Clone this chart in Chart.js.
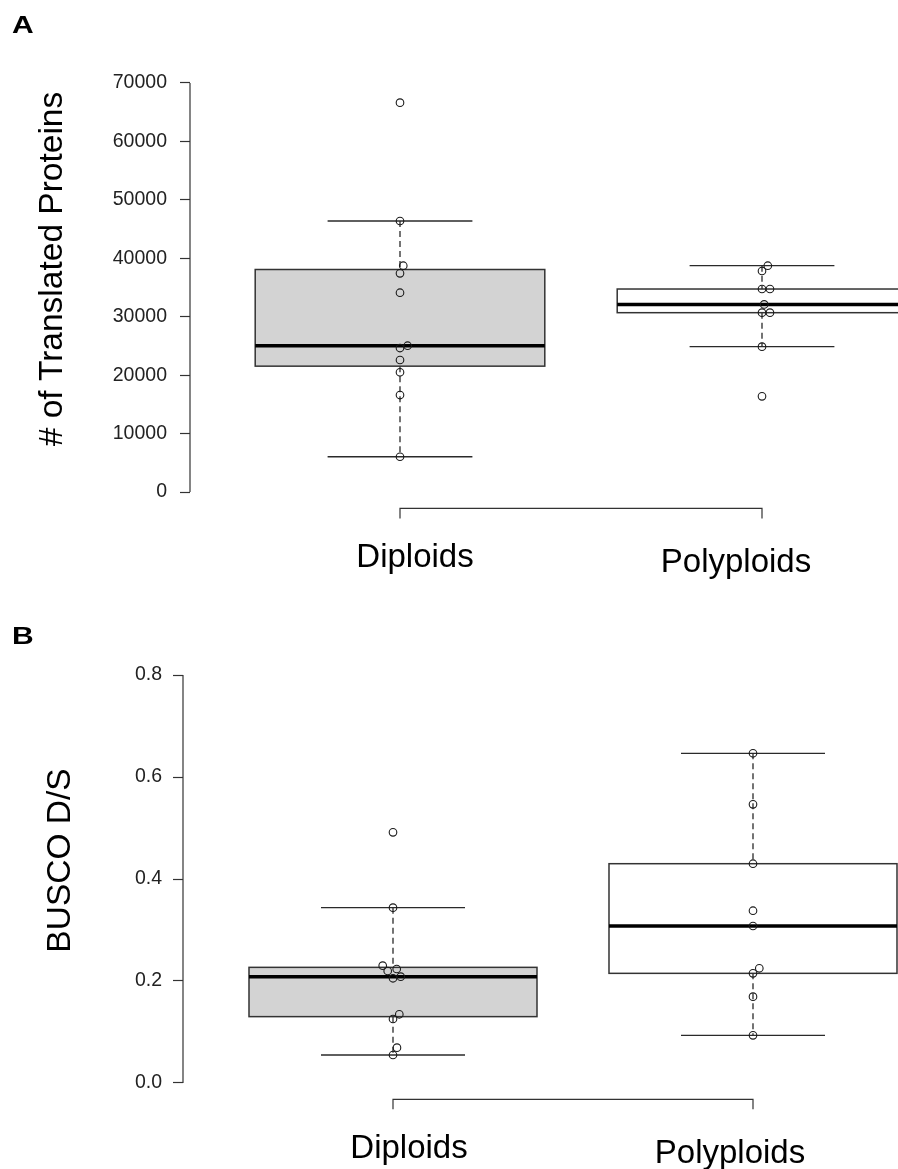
<!DOCTYPE html>
<html><head><meta charset="utf-8">
<script src="https://cdn.jsdelivr.net/npm/chart.js@4/dist/chart.umd.min.js"></script>
<style>
html,body{margin:0;padding:0;background:#fff;}
#wrap{position:relative;width:898px;height:1169px;overflow:hidden;}
canvas{position:absolute;left:0;}
</style></head><body>
<div id="wrap">
<canvas id="cA" width="898" height="585" style="top:0px"></canvas>
<canvas id="cB" width="898" height="584" style="top:585px"></canvas>
</div>
<script>
// ---------- data ----------
const groups = ['Diploids', 'Polyploids'];
const groupPos = [1, 2];

const proteinsDiploids   = [66630, 46380, 38730, 37430, 34110, 25040, 24640, 22590, 20490, 16600, 6040];
const proteinsPolyploids = [38730, 37820, 34740, 34740, 32100, 30690, 30690, 24870, 16380];
const jitterProteinsDiploids   = [0, 0, 0.009, 0, 0, 0.021, 0, 0, 0, 0, 0];
const jitterProteinsPolyploids = [0.016, 0, 0, 0.022, 0.006, 0, 0.022, 0, 0];

const buscoDiploids   = [0.4915, 0.3438, 0.2300, 0.2196, 0.2235, 0.2053, 0.2085, 0.1347, 0.1255, 0.0693, 0.0549];
const buscoPolyploids = [0.6465, 0.5464, 0.4300, 0.3378, 0.3078, 0.2249, 0.2150, 0.1692, 0.0935];
const jitterBuscoDiploids   = [0, 0, -0.0286, -0.0147, 0.0103, 0, 0.0214, 0.0175, 0, 0.011, 0];
const jitterBuscoPolyploids = [0, 0, 0, 0, 0, 0.0175, 0, 0, 0];

const proteinTicks = [0, 10000, 20000, 30000, 40000, 50000, 60000, 70000];
const proteinTickLabels = ['0', '10000', '20000', '30000', '40000', '50000', '60000', '70000'];
const buscoTicks = [0, 0.2, 0.4, 0.6, 0.8];
const buscoTickLabels = ['0.0', '0.2', '0.4', '0.6', '0.8'];

// ---------- box statistics (R boxplot / fivenum) ----------
function fivenum(arr) {
  const x = [...arr].sort((a, b) => a - b), n = x.length;
  const n4 = Math.floor((n + 3) / 2) / 2;
  const d = [1, n4, (n + 1) / 2, n + 1 - n4, n];
  return d.map(i => 0.5 * (x[Math.floor(i) - 1] + x[Math.ceil(i) - 1]));
}
function boxStats(arr) {
  const f = fivenum(arr), iqr = f[3] - f[1];
  const lo = f[1] - 1.5 * iqr, hi = f[3] + 1.5 * iqr;
  const inside = arr.filter(v => v >= lo && v <= hi);
  return { q1: f[1], med: f[2], q3: f[3], wLo: Math.min(...inside), wHi: Math.max(...inside) };
}

const FONT = "'Liberation Sans', Arial, Helvetica, sans-serif";

const rboxPlugin = {
  id: 'rbox',
  beforeDatasetsDraw(chart) {
    const o = chart.options.plugins.rbox;
    const xs = chart.scales.x, ys = chart.scales.y, ctx = chart.ctx;
    const Y = v => ys.getPixelForValue(v);
    const line = (x1, y1, x2, y2) => { ctx.beginPath(); ctx.moveTo(x1, y1); ctx.lineTo(x2, y2); ctx.stroke(); };
    ctx.save();
    ctx.lineCap = 'butt';
    o.boxes.forEach(b => {
      const s = b.stats;
      const xc = xs.getPixelForValue(b.pos);
      const xl = xs.getPixelForValue(b.pos - o.boxHalf), xr = xs.getPixelForValue(b.pos + o.boxHalf);
      const cl = xs.getPixelForValue(b.pos - o.capHalf), cr = xs.getPixelForValue(b.pos + o.capHalf);
      ctx.strokeStyle = '#2a2a2a'; ctx.lineWidth = 1.3;
      ctx.setLineDash([6, 4]);
      line(xc, Y(s.wHi), xc, Y(s.q3));
      line(xc, Y(s.q1), xc, Y(s.wLo));
      ctx.setLineDash([]);
      line(cl, Y(s.wHi), cr, Y(s.wHi));
      line(cl, Y(s.wLo), cr, Y(s.wLo));
      ctx.fillStyle = b.fill;
      ctx.fillRect(xl, Y(s.q3), xr - xl, Y(s.q1) - Y(s.q3));
      ctx.lineWidth = 1.5; ctx.strokeStyle = '#333';
      ctx.strokeRect(xl, Y(s.q3), xr - xl, Y(s.q1) - Y(s.q3));
      ctx.strokeStyle = '#000'; ctx.lineWidth = 3.5;
      line(xl, Y(s.med), xr, Y(s.med));
    });
    // y axis line (range of ticks)
    const ca = chart.chartArea;
    ctx.strokeStyle = '#333'; ctx.lineWidth = 1.2;
    line(ca.left, Y(o.yTicks[0]), ca.left, Y(o.yTicks[o.yTicks.length - 1]));
    // x axis bracket
    const x1 = xs.getPixelForValue(groupPos[0]), x2 = xs.getPixelForValue(groupPos[groupPos.length - 1]);
    ctx.beginPath();
    ctx.moveTo(x1, ca.bottom + 10); ctx.lineTo(x1, ca.bottom); ctx.lineTo(x2, ca.bottom); ctx.lineTo(x2, ca.bottom + 10);
    ctx.stroke();
    ctx.restore();
  },
  afterDraw(chart) {
    const o = chart.options.plugins.rbox, ctx = chart.ctx, xs = chart.scales.x;
    ctx.save();
    ctx.fillStyle = '#000';
    ctx.textBaseline = 'alphabetic';
    // panel letter
    ctx.save();
    ctx.translate(o.letterX, o.letterY); ctx.scale(1.25, 1);
    ctx.font = 'bold 24px ' + FONT; ctx.textAlign = 'left';
    ctx.fillText(o.letter, 0, 0);
    ctx.restore();
    // y title
    ctx.save();
    ctx.translate(o.titleX, o.titleY); ctx.rotate(-Math.PI / 2);
    ctx.font = '33.5px ' + FONT; ctx.textAlign = 'center';
    ctx.fillText(o.title, 0, 0);
    ctx.restore();
    // group labels
    ctx.font = '33px ' + FONT; ctx.textAlign = 'center';
    groups.forEach((g, i) => {
      ctx.fillText(g, xs.getPixelForValue(groupPos[i]) + o.labelDx[i], o.labelY[i]);
    });
    ctx.restore();
  }
};

function makeChart(id, cfg) {
  const datasets = cfg.series.map((vals, gi) => ({
    type: 'scatter',
    data: vals.map((v, i) => ({ x: groupPos[gi] + cfg.jitter[gi][i], y: v })),
    pointRadius: 3.8, pointHoverRadius: 3.8,
    pointBorderColor: '#1a1a1a', pointBorderWidth: 1.1,
    pointBackgroundColor: 'rgba(0,0,0,0)',
    showLine: false, clip: false
  }));
  return new Chart(document.getElementById(id), {
    type: 'scatter',
    data: { datasets },
    options: {
      responsive: false, animation: false, events: [],
      layout: { padding: cfg.padding, autoPadding: false },
      plugins: {
        legend: { display: false }, tooltip: { enabled: false },
        rbox: {
          boxes: cfg.series.map((vals, gi) => ({ pos: groupPos[gi], stats: boxStats(vals), fill: cfg.fills[gi] })),
          boxHalf: 0.4, capHalf: 0.2,
          yTicks: cfg.ticks,
          letter: cfg.letter, letterX: cfg.letterX, letterY: cfg.letterY,
          title: cfg.title, titleX: cfg.titleX, titleY: cfg.titleY,
          labelDx: cfg.labelDx, labelY: cfg.labelY
        }
      },
      scales: {
        x: { type: 'linear', display: false, min: cfg.xMin, max: cfg.xMax },
        y: {
          type: 'linear', position: 'left', min: cfg.yMin, max: cfg.yMax,
          afterBuildTicks: s => { s.ticks = cfg.ticks.map(v => ({ value: v })); },
          afterFit: s => { s.width = cfg.axisX; },
          ticks: {
            autoSkip: false, padding: cfg.tickPad, color: '#222',
            font: { family: FONT, size: 19.5 },
            callback: (v, i) => cfg.tickLabels[i]
          },
          grid: { drawOnChartArea: false, drawTicks: true, tickLength: 10, tickColor: '#333', tickWidth: 1.2, color: '#333' },
          border: { display: false }
        }
      }
    },
    plugins: [rboxPlugin]
  });
}

makeChart('cA', {
  series: [proteinsDiploids, proteinsPolyploids],
  jitter: [jitterProteinsDiploids, jitterProteinsPolyploids],
  fills: ['#d3d3d3', '#ffffff'],
  ticks: proteinTicks, tickLabels: proteinTickLabels,
  yMin: -2800, yMax: 72800,
  xMin: 0.41989, xMax: 2.37569,
  axisX: 190, tickPad: 13,
  padding: { left: 0, right: 0, top: 66.6, bottom: 76.6 },
  letter: 'A', letterX: 12, letterY: 33,
  title: '# of Translated Proteins', titleX: 62, titleY: 269,
  labelDx: [15, -26], labelY: [567, 572]
});

makeChart('cB', {
  series: [buscoDiploids, buscoPolyploids],
  jitter: [jitterBuscoDiploids, jitterBuscoPolyploids],
  fills: ['#d3d3d3', '#ffffff'],
  ticks: buscoTicks, tickLabels: buscoTickLabels,
  yMin: -0.032, yMax: 0.832,
  xMin: 0.41667, xMax: 2.40278,
  axisX: 183, tickPad: 11,
  padding: { left: 0, right: 0, top: 73.7, bottom: 69.7 },
  letter: 'B', letterX: 12, letterY: 59,
  title: 'BUSCO D/S', titleX: 70, titleY: 275.5,
  labelDx: [16, -23], labelY: [573, 578]
});
</script>
</body></html>
